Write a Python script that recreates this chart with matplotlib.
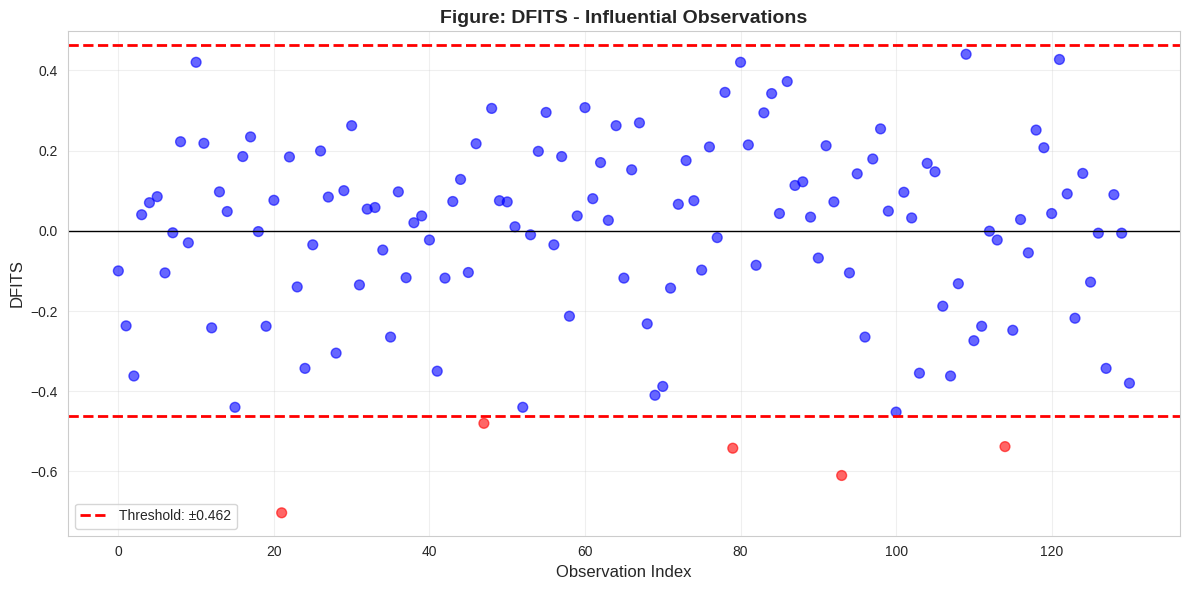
import numpy as np
import matplotlib
matplotlib.use("Agg")
import matplotlib.pyplot as plt
import seaborn as sns

# Valores DFITS (indice 0..130)
dfits = [
    -0.100, -0.237, -0.362, 0.040, 0.070, 0.085, -0.105, -0.005, 0.222, -0.030,
    0.420, 0.218, -0.242, 0.097, 0.048, -0.440, 0.185, 0.234, -0.002, -0.238,
    0.076, -0.703, 0.184, -0.140, -0.343, -0.035, 0.199, 0.084, -0.305, 0.100,
    0.262, -0.135, 0.054, 0.058, -0.048, -0.265, 0.097, -0.117, 0.020, 0.037,
    -0.023, -0.350, -0.118, 0.073, 0.128, -0.104, 0.217, -0.480, 0.305, 0.075,
    0.072, 0.010, -0.440, -0.010, 0.198, 0.295, -0.035, 0.185, -0.213, 0.037,
    0.307, 0.080, 0.170, 0.026, 0.262, -0.118, 0.152, 0.269, -0.232, -0.410,
    -0.388, -0.143, 0.066, 0.175, 0.075, -0.098, 0.209, -0.017, 0.345, -0.542,
    0.420, 0.214, -0.086, 0.294, 0.342, 0.043, 0.372, 0.113, 0.122, 0.034,
    -0.068, 0.212, 0.072, -0.610, -0.105, 0.142, -0.265, 0.179, 0.254, 0.049,
    -0.452, 0.096, 0.032, -0.355, 0.168, 0.147, -0.188, -0.362, -0.132, 0.440,
    -0.274, -0.238, -0.001, -0.023, -0.538, -0.248, 0.028, -0.055, 0.251, 0.207,
    0.043, 0.427, 0.092, -0.218, 0.143, -0.128, -0.006, -0.343, 0.090, -0.006,
    -0.380,
]
n_params = 7
threshold = 2 * np.sqrt(n_params / len(dfits))

sns.set_style("whitegrid")
plt.rcParams['font.family'] = ['Arial', 'Liberation Sans', 'DejaVu Sans']

dfits = np.array(dfits)
idx = np.arange(len(dfits))
colores = np.where(np.abs(dfits) > threshold, 'red', 'blue')

fig, ax = plt.subplots(figsize=(12, 6), dpi=100)
ax.scatter(idx, dfits, c=colores, alpha=0.6, s=50)
ax.axhline(y=threshold, color='red', linestyle='--', linewidth=2,
           label=f'Threshold: ±{threshold:.3f}')
ax.axhline(y=-threshold, color='red', linestyle='--', linewidth=2)
ax.axhline(y=0, color='black', linestyle='-', linewidth=1)
ax.set_xlabel('Observation Index', fontsize=12)
ax.set_ylabel('DFITS', fontsize=12)
ax.set_title('Figure: DFITS - Influential Observations', fontsize=14, fontweight='bold')
ax.legend(loc='lower left')
ax.grid(True, alpha=0.3)
plt.tight_layout()
plt.savefig('out.png', dpi=100, bbox_inches='tight')
